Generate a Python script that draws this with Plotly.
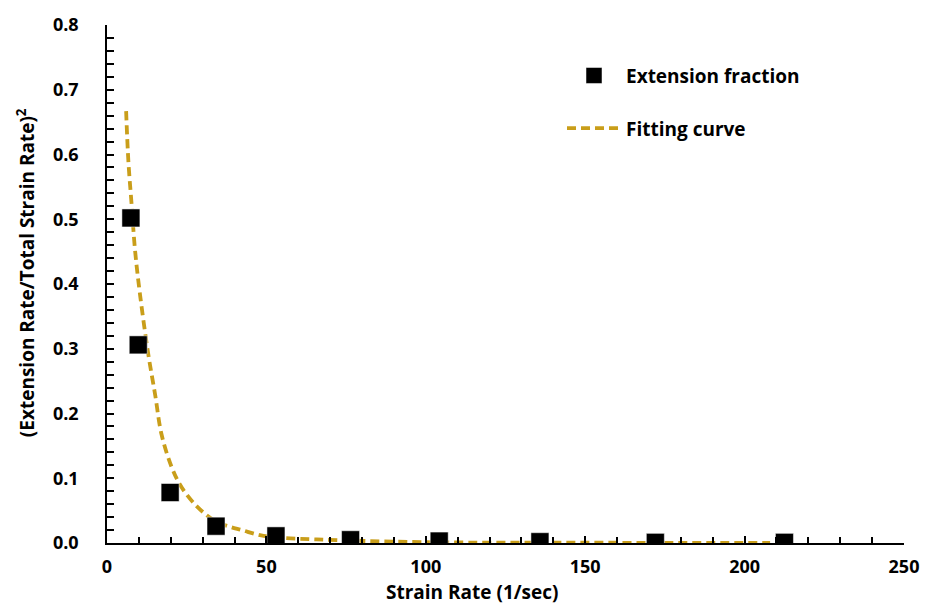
import plotly.graph_objects as go

# Measured extension fraction vs strain rate
strain_rate = [7.5, 9.8, 19.8, 34.2, 53.0, 76.4, 104.2, 135.8, 172.0, 212.5]
ext_fraction = [0.502, 0.306, 0.078, 0.026, 0.011, 0.005, 0.003, 0.002, 0.001, 0.001]

# Fitting curve samples
fit_x = [6.0, 6.7, 7.7, 8.8, 10.4, 13.0, 15.1, 17.1, 20.3, 23.4, 28.5, 33.9,
         38.6, 42.3, 48.0, 55.0, 65.8, 81.5, 105.0, 140.0, 175.0, 208.0]
fit_y = [0.667, 0.590, 0.524, 0.452, 0.382, 0.290, 0.229, 0.168, 0.117, 0.086,
         0.055, 0.034, 0.025, 0.020, 0.012, 0.008, 0.0056, 0.003, 0.001, 0.0005,
         0.0003, 0.0002]

x_ticks = [0, 50, 100, 150, 200, 250]
y_ticks = [0.0, 0.1, 0.2, 0.3, 0.4, 0.5, 0.6, 0.7, 0.8]

GOLD = "#C99E1A"
FONT = "Open Sans"

fig = go.Figure()
fig.add_trace(go.Scatter(
    x=fit_x, y=fit_y, mode="lines", line_shape="spline",
    name="<b>Fitting curve</b>",
    line=dict(color=GOLD, width=3.8, dash="9px,5px"),
    legendgroup="b", legendrank=2,
))
fig.add_trace(go.Scatter(
    x=strain_rate, y=ext_fraction, mode="markers",
    name="<b>Extension fraction</b>",
    marker=dict(symbol="square", size=18, color="black",
                line=dict(color="white", width=0.5)),
    legendgroup="a", legendrank=1,
))

axis_common = dict(
    showline=True, linecolor="black", linewidth=1.5,
    ticks="inside", ticklen=7, tickwidth=1.5, tickcolor="black",
    showgrid=False, zeroline=False,
    tickfont=dict(family=FONT, size=18, color="black", weight=700),
)

fig.update_xaxes(
    range=[0, 250], tickvals=x_ticks, ticktext=[f"<b>{v}</b>" for v in x_ticks],
    minor=dict(dtick=10, ticks="inside", ticklen=6, tickwidth=1.5, tickcolor="black"),
    ticklabelstandoff=7,
    **axis_common,
)
fig.update_yaxes(
    range=[0, 0.8], tickvals=y_ticks, ticktext=[f"<b>{v:.1f}</b>" for v in y_ticks],
    minor=dict(dtick=0.02, ticks="inside", ticklen=7, tickwidth=1.5, tickcolor="black"),
    ticklabelstandoff=23,
    **axis_common,
)

fig.add_annotation(
    text="<b>Strain Rate (1/sec)</b>", xref="paper", yref="paper",
    x=(472 - 107) / 797, y=-(593 - 543) / 524, showarrow=False,
    xanchor="center", yanchor="middle",
    font=dict(family=FONT, size=19, color="black"),
)
fig.add_annotation(
    text="<b>(Extension Rate/Total Strain Rate)<sup>2</sup></b>", xref="paper", yref="paper",
    x=-(107 - 26) / 797, y=(543 - 270) / 524, showarrow=False, textangle=-90,
    xanchor="center", yanchor="middle",
    font=dict(family=FONT, size=19, color="black"),
)

fig.update_layout(
    width=933, height=607,
    margin=dict(l=107, r=29, t=19, b=64),
    paper_bgcolor="white", plot_bgcolor="white",
    showlegend=True,
    legend=dict(
        x=(562 - 107) / 797, y=(543 - 51) / 524, xanchor="left", yanchor="top",
        traceorder="grouped", tracegroupgap=25, itemwidth=54,
        font=dict(family=FONT, size=19, color="black"),
        bgcolor="rgba(0,0,0,0)",
    ),
)

fig.write_html("out.html")
